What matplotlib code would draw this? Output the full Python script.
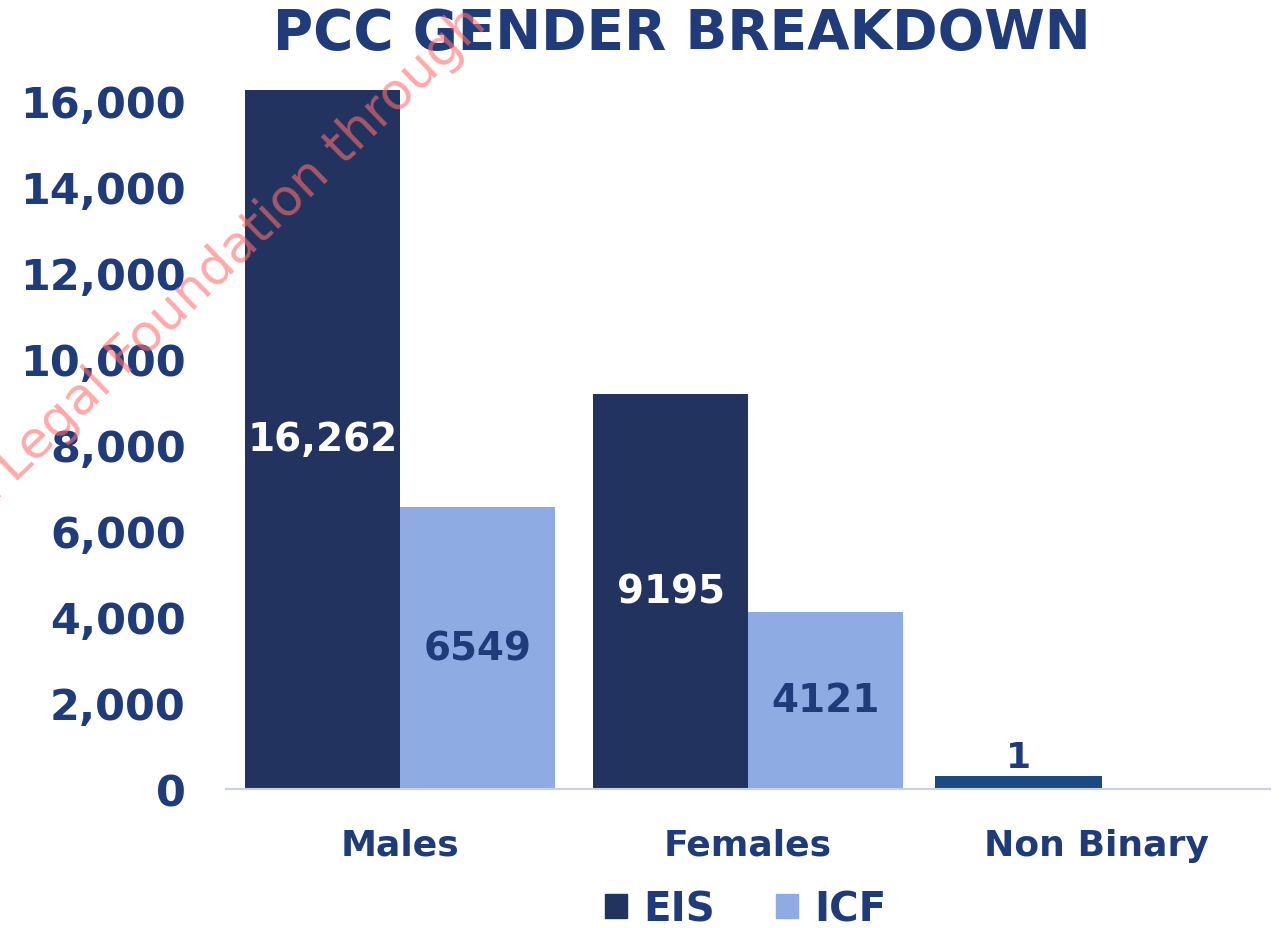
import matplotlib
matplotlib.use("Agg")
import matplotlib.pyplot as plt
import numpy as np
from matplotlib.patches import Patch

categories = ["Males", "Females", "Non Binary"]
eis_values = [16262, 9195, 300]      # drawn heights
icf_values = [6549, 4121, 0]
eis_labels = ["16,262", "9195", "1"]
icf_labels = ["6549", "4121", ""]
yticks = [0, 2000, 4000, 6000, 8000, 10000, 12000, 14000, 16000]

EIS_C = "#22335f"
EIS_NB_C = "#1a4a80"
ICF_C = "#8eabe4"
TXT_C = "#1f3b7a"

plt.rcParams['font.family'] = ['DejaVu Sans']
fig = plt.figure(figsize=(12.81, 9.29), dpi=100)
ax = fig.add_axes([226/1281, 139/929, 1044/1281, 701/929])

x = np.arange(len(categories))
w = 0.445
eis_colors = [EIS_C, EIS_C, EIS_NB_C]
eis_w = [w, w, 0.48]
eis_bars = ax.bar(x - w/2, eis_values, width=eis_w, color=eis_colors, align='center')
icf_bars = ax.bar(x + w/2, icf_values, width=w, color=ICF_C)

for i, b in enumerate(eis_bars):
    h = b.get_height()
    cx = b.get_x() + b.get_width()/2
    if i < 2:
        ax.text(cx, h/2, eis_labels[i], ha='center', va='center', color='white',
                fontsize=28, fontweight='bold')
    else:
        ax.text(cx, h + 60, eis_labels[i], ha='center', va='bottom', color=TXT_C,
                fontsize=26, fontweight='bold')
for i, b in enumerate(icf_bars):
    h = b.get_height()
    if icf_labels[i]:
        ax.text(b.get_x() + b.get_width()/2, h/2, icf_labels[i], ha='center', va='center',
                color=TXT_C, fontsize=28, fontweight='bold')

ax.set_xlim(-0.5, 2.5)
ax.set_ylim(0, 16300)
ax.set_yticks(yticks)
ax.set_yticklabels([f"{v:,}" for v in yticks])
ax.set_xticks(x)
ax.set_xticklabels(categories)
for lab in ax.get_yticklabels():
    lab.set_fontsize(31); lab.set_fontweight('bold'); lab.set_color(TXT_C)
for lab in ax.get_xticklabels():
    lab.set_fontsize(26); lab.set_fontweight('bold'); lab.set_color(TXT_C)
ax.tick_params(axis='both', length=0)
ax.tick_params(axis='y', pad=29)
ax.tick_params(axis='x', pad=28)
for s in ['top', 'right', 'left']:
    ax.spines[s].set_visible(False)
ax.spines['bottom'].set_color('#c8d0e6')
ax.spines['bottom'].set_linewidth(1.5)

fig.text(0.532, 0.963, "PCC GENDER BREAKDOWN", ha='center', va='center',
         fontsize=39.5, fontweight='bold', color=TXT_C)

handles = [Patch(color=EIS_C, label="EIS"), Patch(color=ICF_C, label="ICF")]
fig.legend(handles=handles, loc='center', bbox_to_anchor=(0.582, 0.02), ncol=2,
           frameon=False, prop={'size': 29, 'weight': 'bold'}, labelcolor=TXT_C,
           handlelength=0.55, handleheight=0.55, handletextpad=0.4, columnspacing=1.5)

fig.text(-0.003, 0.444, "t Legal Foundation through", rotation=44, ha='left', va='bottom',
         fontsize=37, color='#ff7070', alpha=0.6, rotation_mode='anchor')

fig.savefig("out.png", dpi=100)
